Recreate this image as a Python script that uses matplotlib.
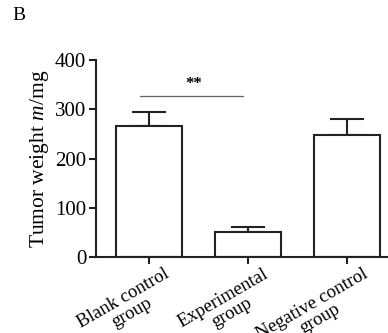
import matplotlib
matplotlib.use("Agg")
import matplotlib.pyplot as plt
import matplotlib.transforms as mtransforms
import numpy as np

categories = ["Blank control\ngroup", "Experimental\ngroup", "Negative control\ngroup"]
means = [266, 50, 247]
errors = [28, 10, 34]
yticks = [0, 100, 200, 300, 400]
sig_label = "**"
sig_y = 326

plt.rcParams['font.family'] = ['Liberation Serif', 'DejaVu Serif']
plt.rcParams['mathtext.fontset'] = 'custom'
plt.rcParams['mathtext.it'] = 'Liberation Serif:italic'
plt.rcParams['mathtext.rm'] = 'Liberation Serif'

fig = plt.figure(figsize=(3.88, 3.33), dpi=100)
ax = fig.add_axes([96/388, 1-257/333, 1-96/388, (257-60)/333])

x = np.arange(len(categories))
ax.bar(x, means, width=0.667, color='white', edgecolor='#222222', linewidth=1.5, zorder=2)
ax.errorbar(x, means, yerr=[np.zeros(len(errors)), errors], fmt='none', ecolor='#222222',
            elinewidth=1.5, capsize=12, capthick=1.5, zorder=1)

ax.set_xlim(-0.535, 2.414)
ax.set_ylim(0, 400)
ax.set_yticks(yticks)
ax.set_yticklabels([str(t) for t in yticks], fontsize=15)
ax.set_xticks(x)
ax.set_xticklabels(categories, rotation=30, ha='right', rotation_mode='anchor',
                   multialignment='center', fontsize=13.5, linespacing=1.0)
ax.tick_params(axis='both', direction='out', length=5, width=1.5, color='#222222', pad=2)
ax.tick_params(axis='x', pad=1)
offset = mtransforms.ScaledTranslation(0.15, 0.0, fig.dpi_scale_trans)
for lab in ax.get_xticklabels():
    lab.set_transform(lab.get_transform() + offset)
for s in ['top', 'right']:
    ax.spines[s].set_visible(False)
for s in ['left', 'bottom']:
    ax.spines[s].set_linewidth(1.5)
    ax.spines[s].set_color('#222222')

ax.set_ylabel(r"Tumor weight $\mathit{m}$/mg", fontsize=15.5, labelpad=3)

ax.plot([-0.09, 0.95], [sig_y, sig_y], color='#666666', linewidth=0.9, clip_on=False)
ax.text(0.45, 352, sig_label, ha='center', va='center', fontsize=12, fontweight='bold')

fig.text(19/388, 1-16/333, "B", fontsize=14, ha='center', va='center')

fig.savefig("out.png", dpi=100)
